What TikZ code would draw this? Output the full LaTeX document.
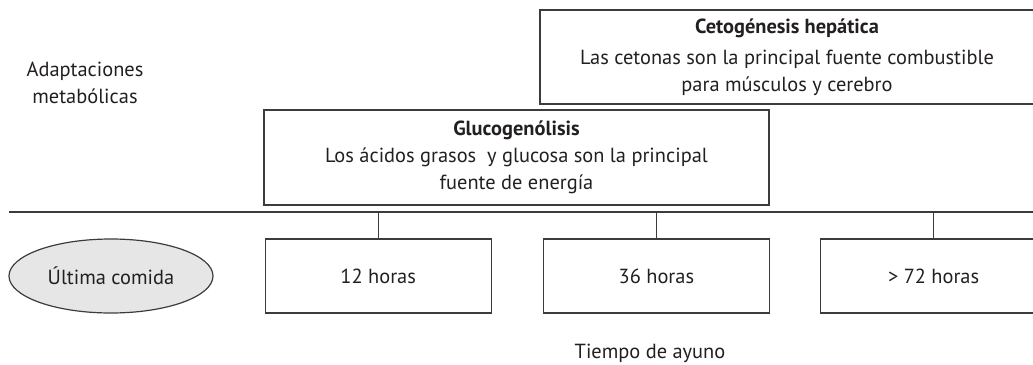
\documentclass[tikz,border=0pt]{standalone}
\usepackage{fontspec}
\setmainfont{PT Sans}
\usetikzlibrary{positioning}
\usetikzlibrary{shapes.geometric}
\definecolor{inkcol}{HTML}{231F20}
\definecolor{linecol}{HTML}{3C3C3C}
\definecolor{mealgray}{HTML}{E6E6E6}
\tikzset {
  box node/.style = {
    draw = linecol,
    line width = 1.2pt,
    text = inkcol,
    inner sep = 0
  },
  % phase of the metabolic adaptation
  phase/.style = {
    box node,
    rectangle,
    align = center,
    font = \fontsize{20.4}{27}\selectfont
  },
  % time since the last meal
  hours/.style = {
    box node,
    rectangle,
    minimum width = 226pt,
    minimum height = 74pt,
    font = \fontsize{20.4}{27}\selectfont
  },
  meal/.style = {
    box node,
    ellipse,
    fill = mealgray,
    minimum width = 204pt,
    minimum height = 74pt,
    font = \fontsize{20.4}{27}\selectfont
  },
  caption/.style = {
    text = inkcol,
    align = center,
    inner sep = 0,
    font = \fontsize{20.4}{27}\selectfont
  },
  axis/.style = {
    draw = linecol,
    line width = 1.2pt
  },
  node distance = 51pt
}

\begin{document}
\begin{tikzpicture}[x=1pt, y=-1pt]
    \clip (0,0) rectangle (1033,364);

    \node[caption] (adapt) at (85,83) {Adaptaciones\\metabólicas};
    \node[phase, minimum width = 494pt, minimum height = 94pt] (ceto) at (787,57)
      {\textbf{Cetogénesis hepática}\\[4pt]
       Las cetonas son la principal fuente combustible\\
       para músculos y cerebro};
    \node[phase, minimum width = 505pt, minimum height = 95pt] (gluco) at (516.5,157.5)
      {\textbf{Glucogenólisis}\\
       Los ácidos grasos\ \ y glucosa son la principal\\
       fuente de energía};

    \node[meal] (last) at (111,276) {Última comida};
    \node[hours] (h12) [right=of last] {12 horas};
    \node[hours] (h36) [right=of h12] {36 horas};
    \node[hours] (h72) [right=50pt of h36] {> 72 horas};
    \node[caption] (fast) at (650,353) {Tiempo de ayuno};

    \coordinate (axis start) at (9,212);
    \coordinate (axis end) at (1033,212);

    \draw[axis] (axis start) -- (axis end);
    \draw[axis] (h12.north) -- (h12.north |- axis start);
    \draw[axis] (h36.north) -- (h36.north |- axis start);
    \draw[axis] (h72.north) -- (h72.north |- axis start);
  \end{tikzpicture}
\end{document}
